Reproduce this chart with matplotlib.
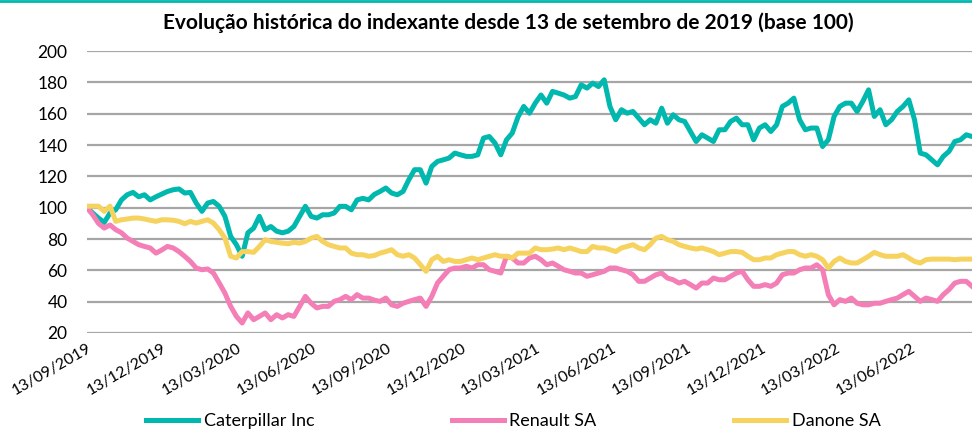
import matplotlib
matplotlib.use("Agg")
import matplotlib.pyplot as plt
import pandas as pd

# weekly readings, starting 13/09/2019 (base 100)
caterpillar = [100, 96.6, 93.4, 90.6, 96.6, 98.7, 105, 108.3, 109.8, 107,
               108.3, 105, 107, 108.7, 110.4, 111.5, 112, 109.4, 109.8, 103,
               97.7, 103, 104, 100.9, 94.5, 81.7, 76.4, 69, 84, 87,
               94.5, 86, 88, 85, 84, 85, 88, 94.5, 100.9, 94.5,
               93.4, 95.5, 95.5, 96.6, 100.9, 100.9, 98.7, 105, 106, 105,
               108.5, 110.4, 112.6, 109.4, 108.3, 110.4, 117.9, 124.3, 124.3, 115.7,
               126.4, 129.6, 130.6, 131.7, 134.9, 133.8, 132.8, 132.8, 133.8, 144.5,
               145.5, 141.3, 133.8, 143.4, 147.7, 158, 164.7, 160.4, 166.8, 172,
               166.8, 174.3, 173.2, 172, 170, 171, 178.5, 176.4, 179.6, 177.4,
               181.7, 164.7, 156.2, 162.6, 160.4, 161.5, 157.2, 153, 156.2, 154,
               163.6, 154, 159.4, 156.2, 155.1, 148.7, 142.3, 146.6, 144.5, 142.3,
               149.8, 149.8, 155.1, 157.2, 153, 153, 143.4, 150.9, 153, 148.7,
               153, 164.7, 166.8, 170, 156.2, 149.8, 150.9, 150.9, 139.1, 143.4,
               158.3, 164.7, 166.8, 166.8, 161.5, 167.9, 175.3, 158.3, 162.6, 153,
               156.2, 161.5, 164.7, 168.9, 156.2, 134.9, 133.8, 130.6, 127.4, 132.8,
               136, 142.3, 143.4, 146.6, 145.5]

renault = [100, 95.5, 90, 87, 89, 86, 84, 80.6, 78.5, 76.4,
           75.3, 74.3, 71, 73, 75.3, 74.3, 72, 69, 65.7, 61.5,
           60.4, 60.9, 58.3, 52, 45.5, 37, 30.6, 26.4, 32.8, 28.5,
           30.6, 32.8, 28.5, 31.7, 29.6, 31.7, 30.6, 37, 43.4, 39,
           36, 37, 37, 40.2, 41.3, 43.4, 41.3, 44.5, 42.3, 42.3,
           41, 40.2, 42.3, 38, 37, 39, 40.2, 41.3, 42.3, 37,
           43.4, 52, 56.2, 60.4, 61.5, 61.5, 62.6, 61.5, 63.6, 63.6,
           60.4, 59.4, 58.3, 69, 67.9, 64.7, 64.7, 67.9, 69, 66.8,
           63.6, 64.7, 62.6, 60.4, 59.4, 58.3, 58.3, 56.2, 57.2, 58.3,
           59.4, 61.5, 61.5, 60.4, 59.4, 57.2, 53, 53, 55.1, 57.2,
           58.3, 55.1, 54, 51.9, 53, 50.9, 48.7, 51.9, 51.9, 55.1,
           54, 54, 56.2, 58.3, 59.4, 54, 49.8, 49.8, 50.9, 49.8,
           51.9, 57.2, 58.3, 58.3, 60.4, 61.5, 61.5, 63.6, 60.4, 44.5,
           38, 41.3, 40.2, 42.3, 39, 38, 38, 39, 39, 40.2,
           41.3, 42.3, 44.5, 46.6, 43.4, 40.2, 42.3, 41.3, 40.2, 44.5,
           47.7, 51.9, 53, 53, 49.8]

danone = [101, 101, 101, 97.7, 101, 91.3, 92.3, 92.8, 93.4, 93.4,
          92.8, 92, 91.3, 92.3, 92.3, 92, 91.3, 89.8, 91.3, 90.2,
          91.3, 92.3, 90.2, 86, 80.6, 69, 67.9, 72, 72, 71.5,
          75.3, 79.6, 78.5, 77.9, 77.4, 77, 77.9, 77.4, 78.5, 80.6,
          81.7, 78.5, 76.4, 75.3, 74.3, 74.3, 71, 70, 70, 69,
          69.5, 71, 72, 73.2, 70, 69, 70, 67.9, 63.6, 59.4,
          66.8, 69, 65.7, 66.8, 65.7, 65.7, 66.8, 67.9, 66.8, 67.9,
          69, 70, 69, 69, 67.9, 71, 71, 71, 74.3, 73.2,
          73.2, 73.6, 74.3, 73.2, 74.3, 73.2, 72, 72, 75.3, 74.3,
          74.3, 73.2, 72, 74.3, 75.3, 76.4, 74.3, 73.2, 76.4, 80.6,
          81.7, 79.6, 78.5, 76.4, 75.3, 74.3, 73.6, 74.3, 73.2, 72,
          70, 71, 72, 72, 71.5, 69, 66.8, 66.8, 67.9, 67.9,
          70, 71, 72, 72, 70, 69, 70, 69, 66.8, 61.5,
          65.7, 67.9, 65.7, 64.7, 64.7, 66.8, 69, 71.5, 70, 69,
          69, 69, 70, 67.9, 65.7, 64.7, 66.8, 67.2, 67.2, 67.2,
          67.2, 66.8, 67.2, 67.2, 67.2]

names = ["Caterpillar Inc", "Renault SA", "Danone SA"]
colors = ["#00B8AE", "#F47EB6", "#F6D25F"]
tick_labels = ["13/09/2019", "13/12/2019", "13/03/2020", "13/06/2020",
               "13/09/2020", "13/12/2020", "13/03/2021", "13/06/2021",
               "13/09/2021", "13/12/2021", "13/03/2022", "13/06/2022"]

dates = pd.date_range("2019-09-13", periods=len(caterpillar), freq="7D")

plt.rcParams['font.family'] = ['Lato', 'DejaVu Sans']

fig = plt.figure(figsize=(9.72, 4.3), dpi=100)
ax = fig.add_axes([0.0895, 0.2256, 0.9105, 0.6554])

for vals, name, c in zip([caterpillar, renault, danone], names, colors):
    ax.plot(dates, vals, color=c, lw=3.6, label=name, solid_joinstyle="round")

ax.set_ylim(20, 200)
ax.set_yticks(range(20, 201, 20))
ax.set_xlim(dates[0], dates[-1])
ticks = pd.to_datetime(tick_labels, format="%d/%m/%Y")
ax.set_xticks(ticks)
ax.set_xticklabels(tick_labels, rotation=30, ha="right", va="top",
                   rotation_mode="anchor", fontsize=11.5)
ax.tick_params(axis="y", labelsize=12.5, length=0, pad=14)
ax.tick_params(axis="x", length=0, pad=6)
ax.grid(axis="y", color="#A6A6A6", lw=1.6)
ax.set_axisbelow(True)
for s in ax.spines.values():
    s.set_visible(False)

fig.text(0.523, 0.948, "Evolução histórica do indexante desde 13 de setembro de 2019 (base 100)",
         ha="center", va="center", fontsize=15, fontweight="bold")

fig.legend(loc="center", bbox_to_anchor=(0.528, 0.02), ncol=3, frameon=False,
           fontsize=13, handlelength=2.9, columnspacing=7.6, handletextpad=0.3)

fig.add_artist(plt.Line2D([0, 1], [0.997, 0.997], color="#00B8AE", lw=2,
                          transform=fig.transFigure))

fig.savefig("out.png", dpi=100)
